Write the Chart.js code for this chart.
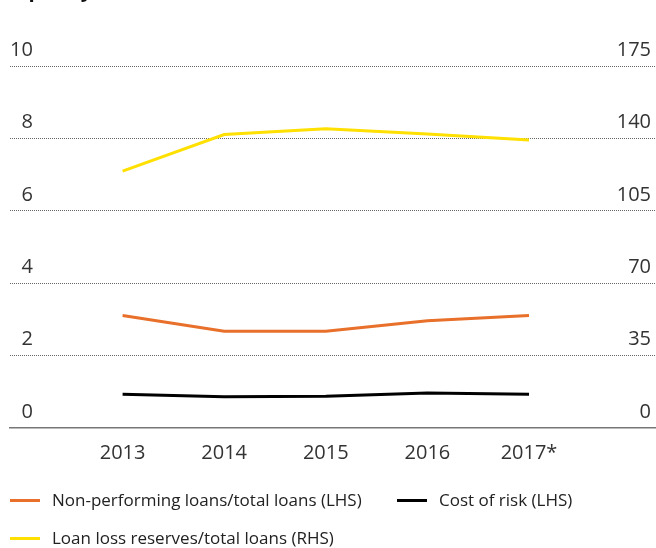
<!DOCTYPE html>
<html>
<head>
<meta charset="utf-8">
<script src="https://cdn.jsdelivr.net/npm/chart.js@4"></script>
<style>
  html, body { margin: 0; padding: 0; background: #fff; }
  #wrap { position: relative; width: 656px; height: 548px; overflow: hidden; }
  #title { position: absolute; left: 22px; top: -24px; font: bold 20px "Open Sans", sans-serif; color: #111; }
  .leg { position: absolute; font: 17px "Open Sans", sans-serif; color: #222; white-space: nowrap; line-height: 20px; }
  .leg i { position: absolute; left: 0; top: 9px; width: 30px; height: 3px; }
  .leg span { position: absolute; left: 42px; top: 0; }
</style>
</head>
<body>
<div id="wrap">
  <div id="title">quality</div>
  <canvas id="chart" width="656" height="548"></canvas>
  <div id="legend"></div>
</div>
<script>
const years = ['2013', '2014', '2015', '2016', '2017*'];
const nplRatio = [3.11, 2.67, 2.67, 2.96, 3.11];      // LHS
const costOfRisk = [0.93, 0.86, 0.88, 0.97, 0.93];    // LHS
const reserveRatio = [124.2, 141.9, 144.7, 142.1, 139.2]; // RHS
const leftTicks = [0, 2, 4, 6, 8, 10];
const rightTicks = [0, 35, 70, 105, 140, 175];

const toPoints = arr => arr.map((v, i) => ({ x: i, y: v }));
const tickFont = { family: '"Open Sans", sans-serif', size: 20 };

const datasets = [
  {
    label: 'Non-performing loans/total loans (LHS)',
    data: toPoints(nplRatio),
    borderColor: '#E8702A',
    yAxisID: 'y'
  },
  {
    label: 'Cost of risk (LHS)',
    data: toPoints(costOfRisk),
    borderColor: '#000000',
    yAxisID: 'y'
  },
  {
    label: 'Loan loss reserves/total loans (RHS)',
    data: toPoints(reserveRatio),
    borderColor: '#FFE000',
    yAxisID: 'y1'
  }
];
datasets.forEach(d => { d.borderWidth = 3; d.pointRadius = 0; d.backgroundColor = d.borderColor; });

const ctx = document.getElementById('chart').getContext('2d');
const chart = new Chart(ctx, {
  type: 'line',
  data: { datasets },
  options: {
    responsive: false,
    animation: false,
    layout: { padding: { top: 66, left: 10, right: 1, bottom: 70 } },
    plugins: {
      tooltip: { enabled: false },
      legend: { display: false }
    },
    scales: {
      x: {
        type: 'linear',
        min: -1.108,
        max: 5.24,
        afterBuildTicks: s => { s.ticks = years.map((_, i) => ({ value: i })); },
        ticks: {
          callback: v => years[v],
          color: '#333',
          font: tickFont,
          padding: 13,
          maxRotation: 0
        },
        grid: { display: false, drawTicks: false },
        border: { display: true, color: '#777', width: 1.5 }
      },
      y: {
        position: 'left',
        min: 0,
        max: 10,
        afterBuildTicks: s => { s.ticks = leftTicks.map(v => ({ value: v })); },
        afterFit: s => { s.width = 0; },
        ticks: {
          mirror: true,
          crossAlign: 'far',
          padding: 0,
          labelOffset: -16,
          color: '#333',
          font: tickFont
        },
        grid: {
          drawTicks: false,
          color: c => (c.tick && c.tick.value === 0 ? 'rgba(0,0,0,0)' : '#666'),
          lineWidth: 1
        },
        border: { display: false, dash: [1, 1] }
      },
      y1: {
        position: 'right',
        min: 0,
        max: 175,
        afterBuildTicks: s => { s.ticks = rightTicks.map(v => ({ value: v })); },
        afterFit: s => { s.width = 0; },
        ticks: {
          mirror: true,
          padding: -4,
          labelOffset: -16,
          color: '#333',
          font: tickFont
        },
        grid: { drawOnChartArea: false, drawTicks: false },
        border: { display: false }
      }
    }
  }
});

// HTML legend from the dataset labels/colours
const legendPos = [[10, 490], [397, 490], [10, 528]];
document.getElementById('legend').innerHTML = chart.data.datasets.map((d, i) =>
  `<div class="leg" style="left:${legendPos[i][0]}px;top:${legendPos[i][1]}px">` +
  `<i style="background:${d.borderColor}"></i><span>${d.label}</span></div>`
).join('');
</script>
</body>
</html>
